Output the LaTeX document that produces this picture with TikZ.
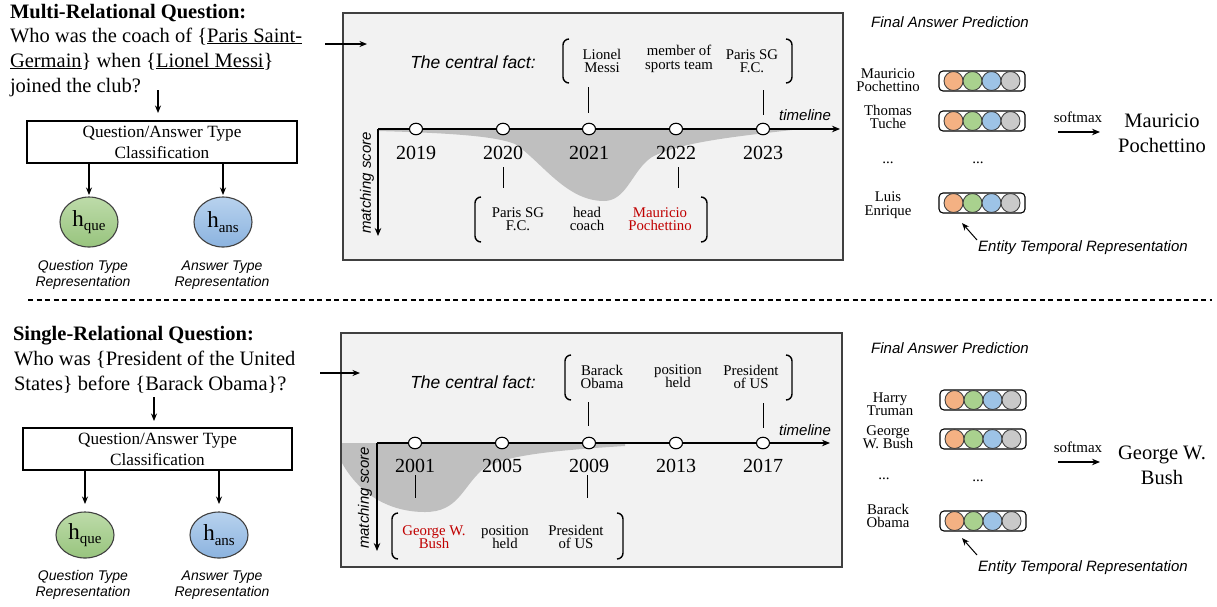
\documentclass[tikz,border=0pt]{standalone}
\usepackage{fontspec}
\setmainfont{Liberation Serif}
\setsansfont{Liberation Sans}
\usetikzlibrary{arrows.meta,shapes.geometric}
\definecolor{panelc}{HTML}{F2F2F2}
\definecolor{edge}{HTML}{404040}
\definecolor{shadec}{HTML}{BFBFBF}
\definecolor{ansred}{HTML}{C00000}
\definecolor{vorange}{HTML}{F4B183}
\definecolor{vgreen}{HTML}{A9D18E}
\definecolor{vblue}{HTML}{9DC3E6}
\definecolor{vgray}{HTML}{C9C9C9}
\definecolor{gtop}{HTML}{BDDBA9}
\definecolor{gbot}{HTML}{98C47E}
\definecolor{btop}{HTML}{B8D2EE}
\definecolor{bbot}{HTML}{8BB3DF}
\newcommand\LBr[3]{\draw[brk] (#1+6,#2) -- (#1,#2) -- (#1,#3) -- (#1+6,#3);}
\newcommand\RBr[3]{\draw[brk] (#1-6,#2) -- (#1,#2) -- (#1,#3) -- (#1-6,#3);}
\newcommand\vecrow[3]{%
  \node[vecbox] (#1) at (#2,#3) {};
  \node[vdot, fill=vorange] at ([xshift=-28.5pt]#1.center) {};
  \node[vdot, fill=vgreen] at ([xshift=-9.5pt]#1.center) {};
  \node[vdot, fill=vblue] at ([xshift=9.5pt]#1.center) {};
  \node[vdot, fill=vgray] at ([xshift=28.5pt]#1.center) {};}
\newcommand\hlab[2]{{\fontsize{23}{23}\selectfont h}\raisebox{-4.5pt}{\fontsize{15}{15}\selectfont #2}}
\begin{document}
\begin{tikzpicture}[x=1pt,y=-1pt,
 every node/.style={inner sep=0pt, outer sep=0pt},
 arr/.style={-{Stealth[length=7.5,width=6]}, line width=1.1},
 panel/.style={draw=edge, fill=panelc, line width=1.3},
 qtitle/.style={anchor=base west, font=\fontsize{20.5}{24}\selectfont\bfseries},
 qline/.style={anchor=base west, font=\fontsize{20.5}{24}\selectfont},
 clsbox/.style={draw, line width=1.1, minimum width=270, minimum height=42, align=center, font=\fontsize{17.2}{21}\selectfont},
 hnode/.style={ellipse, draw=edge, line width=1.1, minimum width=58, minimum height=50},
 caption/.style={align=center, font=\fontsize{14}{16}\selectfont\sffamily\itshape},
 fact/.style={align=center, font=\fontsize{14.8}{13.5}\selectfont},
 year/.style={anchor=base, font=\fontsize{20}{20}\selectfont},
 tnode/.style={ellipse, draw, fill=white, line width=1.1, minimum width=13, minimum height=11.5},
 brk/.style={line width=1.4, rounded corners=6},
 tick/.style={line width=1},
 axislab/.style={font=\fontsize{15}{15}\selectfont\sffamily\itshape},
 central/.style={font=\fontsize{17.5}{17.5}\selectfont\sffamily\itshape},
 ent/.style={align=center, font=\fontsize{14.8}{13.5}\selectfont},
 vecbox/.style={draw, rounded corners=4, line width=1.1, minimum width=86, minimum height=20},
 vdot/.style={circle, draw=edge, line width=0.9, minimum size=19},
 answer/.style={align=center, font=\fontsize{20.5}{25}\selectfont},
 smlab/.style={font=\fontsize{15}{15}\selectfont},
 tl/.style={-{Stealth[length=8,width=6.5]}, line width=1.3},
]
\useasboundingbox (0,0) rectangle (1217,606);

%%%%%%%%%%%%%%%% TOP: multi-relational %%%%%%%%%%%%%%%%
\node[qtitle] (mt) at (10,18) {Multi-Relational Question:};
\node[qline] (mq1) at (10,42) {Who was the coach of \{\underline{Paris Saint-}};
\node[qline] (mq2) at (10,67) {\underline{Germain}\} when \{\underline{Lionel Messi}\}};
\node[qline] (mq3) at (10,92) {joined the club?};
\node[clsbox] (mcls) at (162,142) {Question/Answer Type\\Classification};
\coordinate (ma0) at (158,90);
\coordinate (ma1) at (158,113);
\draw[arr] (ma0) -- (ma1);
\node[hnode, top color=gtop, bottom color=gbot] (mhq) at (89,222) {\hlab{h}{que}};
\node[hnode, top color=btop, bottom color=bbot] (mha) at (223,222) {\hlab{h}{ans}};
\draw[arr] (mcls.south -| mhq) -- ([yshift=2pt]mhq.north);
\draw[arr] (mcls.south -| mha) -- ([yshift=2pt]mha.north);
\node[caption] (mcq) at (83,275) {Question Type\\Representation};
\node[caption] (mca) at (222,275) {Answer Type\\Representation};

% panel
\node[panel, minimum width=500, minimum height=247, anchor=north west] (mpanel) at (343,13) {};
\coordinate (mqa) at (325,44);
\draw[arr] (mqa) -- (367,44);
\node[central] (mcf) at (473,62) {The central fact:};
% shading
\fill[shadec] (378,129) -- (792,129) -- (792,130) .. controls (740,136) and (680,142) .. (652,157)
  .. controls (632,170) and (627,201) .. (604,201) .. controls (566,201) and (542,162) .. (515,144)
  .. controls (495,136) and (450,133) .. (378,131) -- cycle;
% axes
\coordinate (mo) at (378,129);
\draw[tl] (mo) -- (840,129);
\draw[tl] (mo) -- (378,236);
\node[axislab] (mtl) at (805,115) {timeline};
\node[axislab, rotate=90] (mms) at (367,183) {matching score};
% years
\foreach \x/\yr in {416/2019,503/2020,589/2021,676/2022,763/2023}{
  \node[tnode] (m\yr) at (\x,129) {};
  \node[year] at (\x,159) {\yr};
}
% central fact
\LBr{563}{39}{83}\RBr{792}{39}{83}
\node[fact] (mf1) at (602,61) {Lionel\\Messi};
\node[fact] (mf2) at (679,59) {member of\\sports team};
\node[fact] (mf3) at (752,61) {Paris SG\\F.C.};
\draw[tick] (588,87) -- (588,113);
\draw[tick] (763,90) -- (763,115);
% answer fact
\draw[tick] (503,167) -- (503,188);
\draw[tick] (678,167) -- (678,188);
\LBr{475}{197}{242}\RBr{707}{197}{242}
\node[fact] (mg1) at (518,219) {Paris SG\\F.C.};
\node[fact] (mg2) at (587,219) {head\\coach};
\node[fact, text=ansred] (mg3) at (660,219) {Mauricio\\Pochettino};

% right
\node[axislab] (mfap) at (950,22) {Final Answer Prediction};
\node[ent] (me1) at (888,80) {Mauricio\\Pochettino};
\node[ent] (me2) at (888,117) {Thomas\\Tuche};
\node[smlab] (me3) at (888,163) {...};
\node[ent] (me4) at (888,205) {Luis\\Enrique};
\vecrow{mv1}{982}{81}
\vecrow{mv2}{982}{121}
\node[smlab] (mv3) at (978,163) {...};
\vecrow{mv4}{982}{203}
\coordinate (msa) at (1058,132);
\coordinate (msb) at (1100,132);
\draw[tl] (msa) -- (msb);
\node[smlab] (msm) at (1078,117) {softmax};
\node[answer] (mans) at (1162,133) {Mauricio\\Pochettino};
\node[axislab] (metr) at (1083,248) {Entity Temporal Representation};
\coordinate (metra) at (977,240);
\draw[arr, line width=1] (metra) -- (962,223);

%%%%%%%%%%%%%%%% divider %%%%%%%%%%%%%%%%
\coordinate (dl) at (28,300);
\coordinate (dr) at (1212,300);
\draw[line width=1.1, dash pattern=on 5pt off 3.5pt] (dl) -- (dr);

%%%%%%%%%%%%%%%% BOTTOM: single-relational %%%%%%%%%%%%%%%%
\node[qtitle] (st) at (13,340) {Single-Relational Question:};
\node[qline] (sq1) at (14,365) {Who was \{President of the United};
\node[qline] (sq2) at (14,390) {States\} before \{Barack Obama\}?};
\node[clsbox, minimum width=269] (scls) at (157.5,449) {Question/Answer Type\\Classification};
\coordinate (sa0) at (154,397);
\coordinate (sa1) at (154,421);
\draw[arr] (sa0) -- (sa1);
\node[hnode, top color=gtop, bottom color=gbot, minimum height=46] (shq) at (85,535) {\hlab{h}{que}};
\node[hnode, top color=btop, bottom color=bbot, minimum height=46] (sha) at (219,535) {\hlab{h}{ans}};
\draw[arr] (scls.south -| shq) -- ([yshift=8pt]shq.north);
\draw[arr] (scls.south -| sha) -- ([yshift=8pt]sha.north);
\node[caption] (scq) at (83,585) {Question Type\\Representation};
\node[caption] (sca) at (222,585) {Answer Type\\Representation};

\node[panel, minimum width=501, minimum height=234, anchor=north west] (spanel) at (341,333) {};
\coordinate (sqa) at (320,373);
\draw[arr] (sqa) -- (360,373);
\node[central] (scf) at (473,382) {The central fact:};
\fill[shadec] (342,443) -- (625,443) -- (625,446) .. controls (560,450) and (500,455) .. (482,470)
  .. controls (462,488) and (458,512) .. (425,512) .. controls (390,512) and (360,495) .. (342,463) -- cycle;
\coordinate (so) at (377,443);
\draw[tl] (so) -- (830,443);
\draw[tl] (so) -- (377,551);
\node[axislab] (stl) at (805,430) {timeline};
\node[axislab, rotate=90] (sms) at (365,498) {matching score};
\foreach \x/\yr in {415/2001,502/2005,589/2009,676/2013,763/2017}{
  \node[tnode] (s\yr) at (\x,443) {};
  \node[year] at (\x,472) {\yr};
}
\LBr{565}{355}{400}\RBr{792}{355}{400}
\node[fact] (sf1) at (602,377) {Barack\\Obama};
\node[fact] (sf2) at (678,376) {position\\held};
\node[fact] (sf3) at (751,377) {President\\of US};
\draw[tick] (588,402) -- (588,426);
\draw[tick] (763,403) -- (763,428);
\draw[tick] (415,475) -- (415,498);
\draw[tick] (587,475) -- (587,498);
\LBr{392}{513}{559}\RBr{623}{513}{559}
\node[fact, text=ansred] (sg1) at (434,537) {George W.\\Bush};
\node[fact] (sg2) at (505,537) {position\\held};
\node[fact] (sg3) at (576,537) {President\\of US};

\node[axislab] (sfap) at (950,348) {Final Answer Prediction};
\node[ent] (se1) at (890,404) {Harry\\Truman};
\node[ent] (se2) at (888,437) {George\\W. Bush};
\node[smlab] (se3) at (884,479) {...};
\node[ent] (se4) at (888,516) {Barack\\Obama};
\vecrow{sv1}{983}{400}
\vecrow{sv2}{983}{439}
\node[smlab] (sv3) at (978,481) {...};
\vecrow{sv4}{983}{521}
\coordinate (ssa) at (1058,462);
\coordinate (ssb) at (1100,462);
\draw[tl] (ssa) -- (ssb);
\node[smlab] (ssm) at (1078,447) {softmax};
\node[answer] (sans) at (1162,465) {George W.\\Bush};
\node[axislab] (setr) at (1083,568) {Entity Temporal Representation};
\coordinate (setra) at (977,555);
\draw[arr, line width=1] (setra) -- (962,538);
\end{tikzpicture}
\end{document}
